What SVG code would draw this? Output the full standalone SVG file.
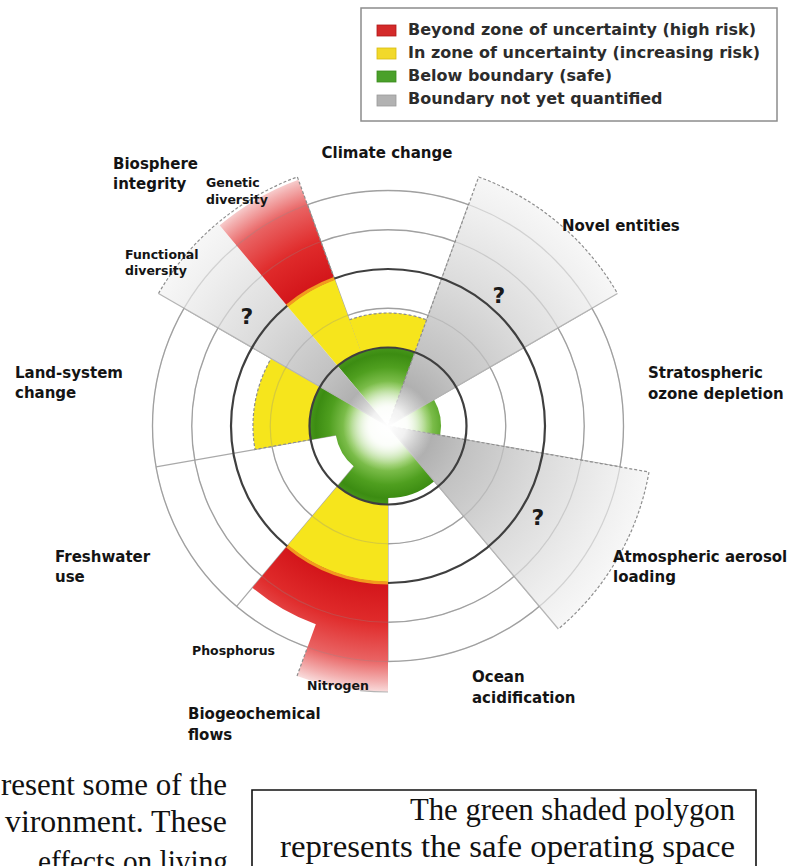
<svg xmlns="http://www.w3.org/2000/svg" width="806" height="866" viewBox="0 0 806 866">
  <style>
    .lbl{font-family:"DejaVu Sans",Verdana,sans-serif;font-weight:bold;font-size:15px;fill:#141414}
    .sub{font-size:12.5px}
    .leg{font-family:"DejaVu Sans",Verdana,sans-serif;font-weight:bold;font-size:16px;fill:#2c2c2c}
    .q{font-family:"DejaVu Sans",Verdana,sans-serif;font-weight:bold;font-size:22px;fill:#1a1a1a;text-anchor:middle}
    .ring{fill:none;stroke:#a9a9a9;stroke-width:1.3}
    .ring-top{fill:none;stroke:#8c8c8c;stroke-width:1.2;opacity:.3}
    .bound{fill:none;stroke:#3f3f3f;stroke-width:2.2}
    .div{stroke:#a9a9a9;stroke-width:1.2}
    .dash{fill:none;stroke:#8e8e8e;stroke-width:1.2;stroke-dasharray:3 2}
    .edge{fill:none;stroke:#b4b4b4;stroke-width:1.2}
    .orange{fill:none;stroke:#f39a1e;stroke-width:3}
    .body{font-family:"Liberation Serif","Times New Roman",serif;font-size:31px;fill:#111}
  </style>
  <defs>
    <radialGradient id="gGreen" gradientUnits="userSpaceOnUse" cx="388" cy="426" r="78.5">
      <stop offset="0" stop-color="#ffffff"/>
      <stop offset="0.25" stop-color="#eaf6e0"/>
      <stop offset="0.5" stop-color="#8cc85a"/>
      <stop offset="0.75" stop-color="#4f9f1f"/>
      <stop offset="0.92" stop-color="#3c8c12"/>
      <stop offset="1" stop-color="#46961a"/>
    </radialGradient>
    <radialGradient id="gGray" gradientUnits="userSpaceOnUse" cx="388" cy="426" r="266">
      <stop offset="0" stop-color="#9a9a9a"/>
      <stop offset="0.3" stop-color="#c2c2c2"/>
      <stop offset="0.6" stop-color="#dcdcdc"/>
      <stop offset="0.85" stop-color="#eeeeee"/>
      <stop offset="1" stop-color="#f7f7f7"/>
    </radialGradient>
    <radialGradient id="gRed" gradientUnits="userSpaceOnUse" cx="388" cy="426" r="266">
      <stop offset="0.59" stop-color="#d3151a"/>
      <stop offset="0.74" stop-color="#e02b2b"/>
      <stop offset="0.88" stop-color="#e96262"/>
      <stop offset="0.96" stop-color="#f3b0b0"/>
      <stop offset="1" stop-color="#f9dcdc"/>
    </radialGradient>
    <radialGradient id="gGlow" gradientUnits="userSpaceOnUse" cx="388" cy="426" r="45">
      <stop offset="0" stop-color="#ffffff" stop-opacity="1"/>
      <stop offset="0.4" stop-color="#ffffff" stop-opacity="0.85"/>
      <stop offset="1" stop-color="#ffffff" stop-opacity="0"/>
    </radialGradient>
  </defs>

  <rect width="806" height="866" fill="#ffffff"/>

  <!-- legend -->
  <g id="legend">
    <rect x="361" y="8" width="416" height="113" fill="#ffffff" stroke="#8c8c8c" stroke-width="1.5"/>
    <rect x="377" y="25" width="19" height="11" fill="#d42a2a" stroke="#b01818" stroke-width="0.8"/>
    <rect x="377" y="48" width="19" height="11" fill="#f2d92a" stroke="#d8bb10" stroke-width="0.8"/>
    <rect x="377" y="71" width="19" height="11" fill="#4aa02a" stroke="#3a8a1c" stroke-width="0.8"/>
    <rect x="377" y="95" width="19" height="11" fill="#b2b2b2" stroke="#9a9a9a" stroke-width="0.8"/>
    <text class="leg" x="408" y="35">Beyond zone of uncertainty (high risk)</text>
    <text class="leg" x="408" y="58">In zone of uncertainty (increasing risk)</text>
    <text class="leg" x="408" y="81">Below boundary (safe)</text>
    <text class="leg" x="408" y="104">Boundary not yet quantified</text>
  </g>

  <!-- grid: radial dividers and light rings -->
  <g id="grid">
    <path class="div" d="M388,426 L468.55,204.7 M388,426 L591.95,308.25 M388,426 L619.92,466.89 M388,426 L539.38,606.4 M388,426 L388,661.5 M388,426 L236.62,606.4 M388,426 L156.08,466.89 M388,426 L184.05,308.25 M388,426 L307.45,204.7"/>
    <circle class="ring" cx="388" cy="426" r="117.75"/>
    <circle class="ring" cx="388" cy="426" r="196.25"/>
    <circle class="ring" cx="388" cy="426" r="235.5"/>
  </g>

  <!-- safe core shared by the quantified boundaries -->
  <g id="safe-core" fill="url(#gGreen)">
    <path d="M388,426 L434.28,481.15 A72,72 0 0 1 388,498 L388,504.5 A78.5,78.5 0 0 1 337.54,486.13 L353.93,466.6 A53,53 0 0 1 335.81,435.2 L310.69,439.63 A78.5,78.5 0 0 1 320.02,386.75 Z"/>
    <path d="M388,426 L337.54,365.87 A78.5,78.5 0 0 1 414.85,352.23 Z"/>
    <path d="M388,426 L433.9,399.5 A53,53 0 0 1 440.19,435.2 Z"/>
  </g>

  <g id="climate-change">
    <path d="M349.35,319.81 A113,113 0 0 1 426.65,319.81 L414.85,352.23 A78.5,78.5 0 0 0 361.15,352.23 Z" fill="#f6e51c"/>
    <path class="dash" d="M349.35,319.81 A113,113 0 0 1 426.65,319.81"/>
    <text class="lbl" x="387" y="158" text-anchor="middle">Climate change</text>
  </g>

  <g id="novel-entities">
    <path d="M388,426 L478.64,176.98 A265,265 0 0 1 617.5,293.5 Z" fill="url(#gGray)"/>
    <path class="dash" d="M388,426 L478.64,176.98 A265,265 0 0 1 617.5,293.5"/>
    <path class="edge" d="M617.5,293.5 L388,426"/>
    <text class="q" x="499" y="303">?</text>
    <text class="lbl" x="562" y="231">Novel entities</text>
  </g>

  <g id="ozone-depletion">
    <text class="lbl" x="648" y="378">Stratospheric</text>
    <text class="lbl" x="648" y="399">ozone depletion</text>
  </g>

  <g id="aerosol-loading">
    <path d="M388,426 L648.97,472.02 A265,265 0 0 1 558.34,629 Z" fill="url(#gGray)"/>
    <path class="dash" d="M388,426 L648.97,472.02 A265,265 0 0 1 558.34,629"/>
    <path class="edge" d="M558.34,629 L388,426"/>
    <text class="q" x="538" y="525">?</text>
    <text class="lbl" x="613" y="562">Atmospheric aerosol</text>
    <text class="lbl" x="613" y="582">loading</text>
  </g>

  <g id="ocean-acidification">
    <text class="lbl" x="472" y="682">Ocean</text>
    <text class="lbl" x="472" y="703">acidification</text>
  </g>

  <g id="biogeochemical-flows">
    <path d="M388,504.5 L388,583 A157,157 0 0 1 287.08,546.27 L337.54,486.13 A78.5,78.5 0 0 0 388,504.5 Z" fill="#f6e51c"/>
    <path d="M388,583 L388,692 A266,266 0 0 1 297.02,675.96 L315.83,624.27 A211,211 0 0 1 252.37,587.63 L287.08,546.27 A157,157 0 0 0 388,583 Z" fill="url(#gRed)"/>
    <path class="dash" d="M306.6,649.65 L297.02,675.96"/>
    <path class="edge" d="M360.2,690.54 A266,266 0 0 0 388,692"/>
    <text class="lbl sub" x="192" y="655">Phosphorus</text>
    <text class="lbl sub" x="307" y="690">Nitrogen</text>
    <text class="lbl" x="188" y="719">Biogeochemical</text>
    <text class="lbl" x="188" y="740">flows</text>
  </g>

  <g id="freshwater-use">
    <text class="lbl" x="55" y="562">Freshwater</text>
    <text class="lbl" x="55" y="582">use</text>
  </g>

  <g id="land-system-change">
    <path d="M310.69,439.63 L255.05,449.44 A135,135 0 0 1 271.09,358.5 L320.02,386.75 A78.5,78.5 0 0 0 310.69,439.63 Z" fill="#f6e51c"/>
    <path class="dash" d="M310.69,439.63 L255.05,449.44 A135,135 0 0 1 271.09,358.5"/>
    <text class="lbl" x="15" y="378">Land-system</text>
    <text class="lbl" x="15" y="398">change</text>
  </g>

  <g id="biosphere-integrity">
    <path d="M388,426 L158.5,293.5 A265,265 0 0 1 217.66,223 Z" fill="url(#gGray)"/>
    <path d="M287.08,305.73 A157,157 0 0 1 334.3,278.47 L361.15,352.23 A78.5,78.5 0 0 0 337.54,365.87 Z" fill="#f6e51c"/>
    <path d="M219.59,225.3 A262,262 0 0 1 298.39,179.8 L334.3,278.47 A157,157 0 0 0 287.08,305.73 Z" fill="url(#gRed)"/>
    <path class="dash" d="M158.5,293.5 A265,265 0 0 1 297.36,176.98 L334.3,278.47"/>
    <path class="edge" d="M158.5,293.5 L388,426"/>
    <text class="q" x="247" y="324">?</text>
    <text class="lbl" x="113" y="169">Biosphere</text>
    <text class="lbl" x="113" y="189">integrity</text>
    <text class="lbl sub" x="206" y="187">Genetic</text>
    <text class="lbl sub" x="206" y="204">diversity</text>
    <text class="lbl sub" x="125" y="259">Functional</text>
    <text class="lbl sub" x="125" y="275">diversity</text>
  </g>

  <!-- overlay: glow, boundary rings, faint grid over fills -->
  <g id="overlay">
    <circle cx="388" cy="426" r="45" fill="url(#gGlow)"/>
    <circle class="ring-top" cx="388" cy="426" r="117.75"/>
    <circle class="ring-top" cx="388" cy="426" r="196.25"/>
    <circle class="ring-top" cx="388" cy="426" r="235.5"/>
    <circle class="bound" cx="388" cy="426" r="78.5"/>
    <circle class="bound" cx="388" cy="426" r="157"/>
    <path class="orange" d="M287.08,305.73 A157,157 0 0 1 334.3,278.47"/>
    <path class="orange" d="M388,583 A157,157 0 0 1 287.08,546.27"/>
  </g>

  <!-- text below the chart -->
  <g id="body-text">
    <text class="body" x="227" y="795" text-anchor="end" textLength="226" lengthAdjust="spacingAndGlyphs">resent some of the</text>
    <text class="body" x="227" y="832" text-anchor="end" textLength="222" lengthAdjust="spacingAndGlyphs">vironment. These</text>
    <text class="body" x="38" y="872" textLength="190" lengthAdjust="spacingAndGlyphs">effects on living</text>
  </g>

  <g id="note">
    <path d="M252,880 L252,790 L756,790 L756,880" fill="none" stroke="#111" stroke-width="1.6"/>
    <text class="body" x="735" y="820" text-anchor="end" textLength="325" lengthAdjust="spacingAndGlyphs">The green shaded polygon</text>
    <text class="body" x="735" y="857" text-anchor="end" textLength="455" lengthAdjust="spacingAndGlyphs">represents the safe operating space</text>
  </g>
</svg>
